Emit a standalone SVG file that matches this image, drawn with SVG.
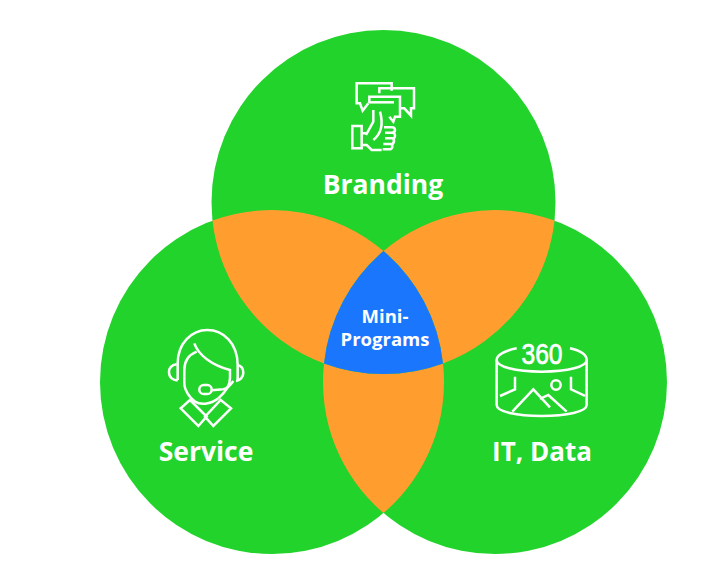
<svg xmlns="http://www.w3.org/2000/svg" width="724" height="588" viewBox="0 0 724 588">
<style>
.c{fill:#21d32b}.o{fill:#ff9e2f}.b{fill:#1b76fe}
.t{font-family:"Open Sans","Noto Sans",sans-serif;font-weight:700;fill:#fff;text-anchor:middle}
.i{fill:none;stroke:#fff;stroke-width:7.5;stroke-linejoin:miter;stroke-linecap:butt}
</style>
<rect width="724" height="588" fill="#fff"/>
<g id="connectors"/>
<g id="node-service"><circle class="c" cx="272" cy="382" r="172"/></g>
<g id="node-it-data"><circle class="c" cx="495" cy="382" r="172"/></g>
<g id="node-branding"><circle class="c" cx="383.5" cy="202" r="172"/></g>
<g id="overlap-left"><path class="o" d="M212.5 220.6A172 172 0 0 1 383.5 251A172 172 0 0 0 324 363.4A172 172 0 0 1 212.5 220.6Z"/></g>
<g id="overlap-right"><path class="o" d="M554.5 220.6A172 172 0 0 0 383.5 251A172 172 0 0 1 443 363.4A172 172 0 0 0 554.5 220.6Z"/></g>
<g id="overlap-bottom"><path class="o" d="M324 363.4A172 172 0 0 0 443 363.4A172 172 0 0 1 383.5 513A172 172 0 0 1 324 363.4Z"/></g>
<g id="node-mini-programs"><path class="b" d="M383.5 251A172 172 0 0 1 443 363.4A172 172 0 0 1 324 363.4A172 172 0 0 1 383.5 251Z"/>
<text class="t" x="385" y="323" font-size="18.5">Mini-</text>
<text class="t" x="385" y="346" font-size="18.5">Programs</text></g>
<g id="label-branding"><text class="t" x="383" y="194" font-size="26.5">Branding</text>
<g class="i" transform="translate(340 70) scale(.3333)">
<path d="M155 62V40H50V100H60L68 122L85 100"/>
<path d="M118 70V55H222V115H213V137L193 115H180"/>
<path d="M88 100V80H180V140H165L160 155L148 140"/>
<path d="M88 97H162"/>
<path d="M100 120V155L78 195M120 125C130 160 125 190 100 210"/>
<path d="M37 168H65V235H37ZM65 190H78M65 225H80L95 240H125"/>
<path d="M132 172H155Q165 172 165 180Q165 188 155 188H135M135 188H162Q168 196 162 205H135M135 205H160Q165 215 158 222H132M130 222H155Q160 232 152 238H128"/>
</g></g>
<g id="label-service"><text class="t" x="206" y="461" font-size="26.5">Service</text>
<g class="i" transform="translate(155 320) scale(.3333)">
<path d="M68 180V130C68 70 110 30 157 30C205 30 248 70 248 135V180"/>
<path d="M65 133C50 135 42 145 42 157C42 172 55 183 68 180M248 135C260 138 265 148 265 158C265 172 255 182 243 183"/>
<path d="M118 70C130 105 170 135 225 150V175C225 200 205 222 190 235"/>
<path d="M125 95C100 105 88 125 88 150V190C88 210 105 235 120 245C135 255 165 255 190 235"/>
<rect x="133" y="195" width="37" height="27" rx="13"/>
<path d="M170 211L205 208Q220 205 235 183"/>
<path d="M105 240L155 290L130 318L77 265ZM197 240L228 265L175 318L150 290Z"/>
</g></g>
<g id="label-it-data"><text class="t" x="542" y="461" font-size="26">IT, Data</text>
<g class="i" transform="translate(485 330) scale(.3333)">
<path d="M95 55C60 62 35 75 35 90C35 110 90 125 170 125C250 125 305 110 305 90C305 75 285 62 255 55"/>
<path d="M35 90V225C35 245 95 258 170 258C245 258 305 245 305 225V90"/>
<path d="M90 140V178L45 198M258 140V178L300 198"/>
<path d="M82 245L145 178L195 232M165 207L190 195L245 245"/>
<circle cx="213" cy="165" r="14"/>
</g>
<text x="542" y="364" font-family="Liberation Sans,sans-serif" font-size="29" fill="#fff" stroke="#fff" stroke-width=".7" text-anchor="middle" textLength="41" lengthAdjust="spacingAndGlyphs">360</text></g>
</svg>
